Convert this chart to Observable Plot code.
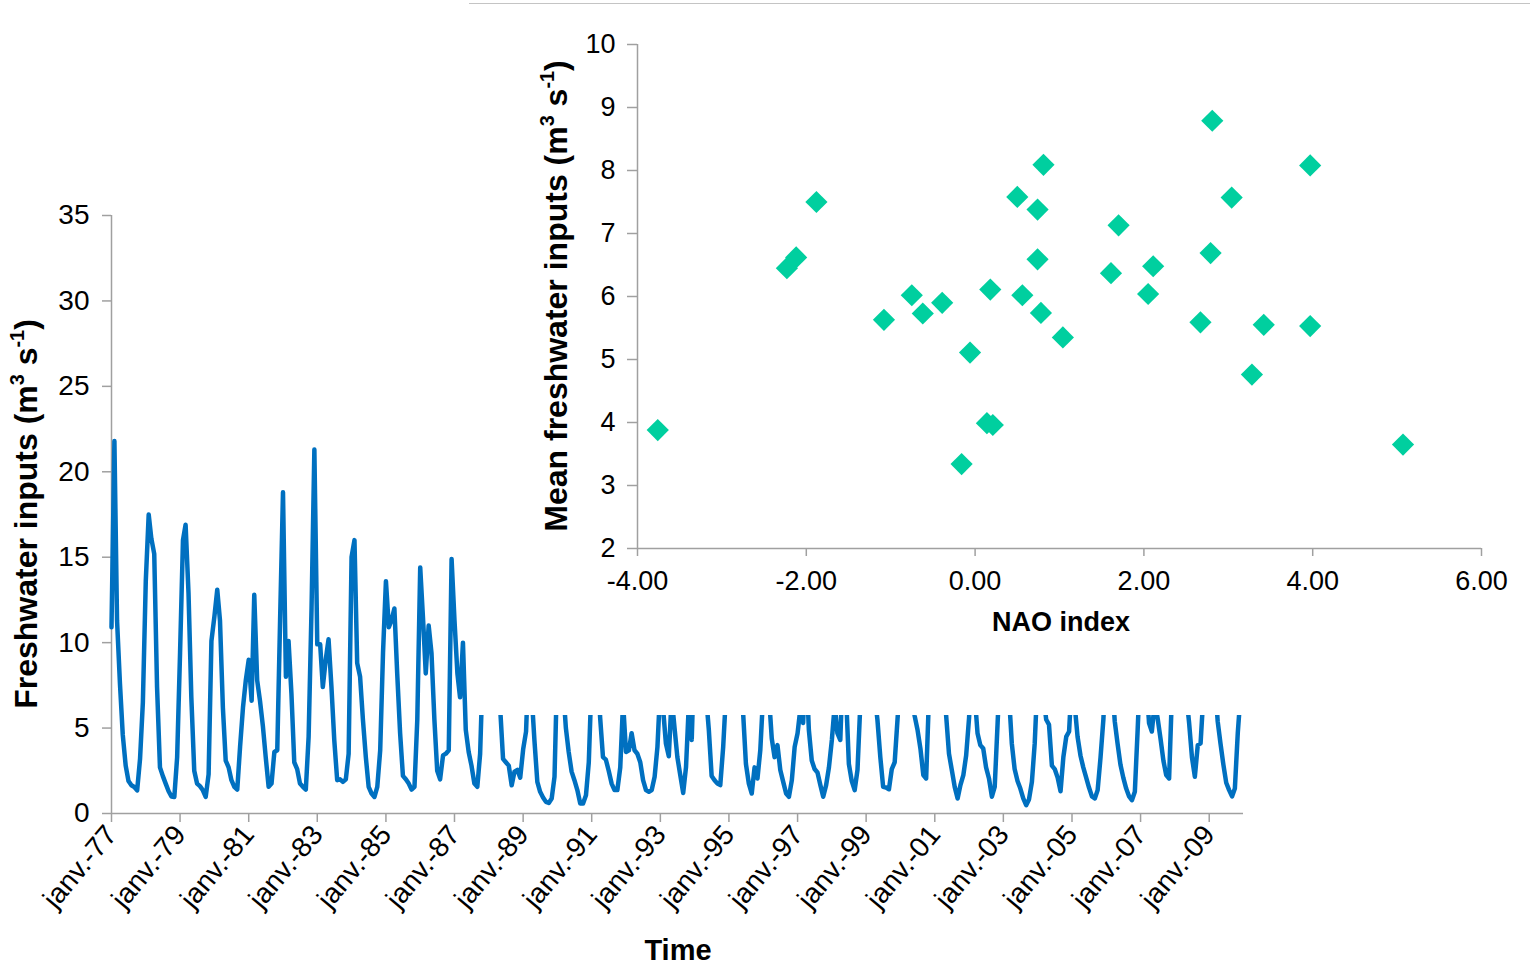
<!DOCTYPE html>
<html><head><meta charset="utf-8">
<script src="https://cdn.jsdelivr.net/npm/d3@7"></script>
<script src="https://cdn.jsdelivr.net/npm/@observablehq/plot@0.6"></script>
<style>
html,body{margin:0;padding:0;background:#fff;overflow:hidden}
#wrap{position:relative;width:1530px;height:966px}
#ts{position:absolute;left:0;top:0}
#inset{position:absolute;left:469px;top:3px;width:1061px;height:711px;background:#fff;border-top:1px solid #c4c4c4}
</style></head><body>
<div id="wrap"><div id="ts"></div><div id="inset"></div></div>
<script>
// ---- Monthly freshwater inputs (m3 s-1), Jan 1977 .. Dec 2009, 12 values per year ----
const firstYear = 1977;
const monthlyFlow = [
  10.9, 21.8, 11.3, 7.6, 4.6, 2.8, 1.9, 1.65, 1.55, 1.35, 3.2, 6.5,      // 1977
  13.6, 17.5, 16.1, 15.2, 7.4, 2.7, 2.2, 1.75, 1.3, 1.0, 0.97, 3.3,      // 1978
  9.4, 16.0, 16.9, 12.9, 6.8, 2.5, 1.75, 1.6, 1.36, 0.97, 2.3, 10.1,     // 1979
  11.5, 13.1, 11.3, 6.2, 3.1, 2.7, 1.95, 1.56, 1.4, 3.9, 6.2, 7.8,       // 1980
  9.0, 6.6, 12.8, 7.8, 6.6, 5.1, 3.3, 1.56, 1.75, 3.6, 3.7, 11.3,        // 1981
  18.8, 8.0, 10.1, 7.0, 3.0, 2.6, 1.75, 1.56, 1.4, 4.5, 12.0, 21.3,      // 1982
  9.9, 9.9, 7.4, 9.0, 10.2, 7.4, 4.3, 1.95, 2.0, 1.85, 2.0, 3.5,         // 1983
  15.0, 16.0, 8.8, 8.0, 5.5, 3.3, 1.56, 1.17, 0.97, 1.56, 3.7, 9.4,      // 1984
  13.6, 10.9, 11.3, 12.0, 8.2, 4.7, 2.2, 2.0, 1.75, 1.4, 1.56, 5.5,      // 1985
  14.4, 11.3, 8.2, 11.0, 9.4, 5.5, 2.5, 2.0, 3.4, 3.5, 3.7, 14.9,        // 1986
  11.3, 8.2, 6.8, 10.0, 4.9, 3.6, 2.8, 1.75, 1.56, 3.5, 9.0, 11.0,       // 1987
  12.0, 10.0, 9.0, 7.5, 6.2, 3.2, 3.0, 2.8, 1.65, 2.45, 2.55, 2.1,       // 1988
  3.75, 4.8, 9.0, 7.0, 4.3, 1.85, 1.27, 0.94, 0.68, 0.62, 0.88, 2.15,    // 1989
  9.0, 10.0, 7.5, 5.0, 3.6, 2.45, 1.95, 1.37, 0.59, 0.59, 1.07, 3.0,     // 1990
  8.0, 10.0, 9.0, 5.6, 3.3, 3.15, 2.5, 1.75, 1.37, 1.37, 2.7, 6.5,       // 1991
  3.6, 3.7, 4.7, 3.7, 3.5, 3.0, 1.95, 1.37, 1.27, 1.37, 2.15, 3.9,       // 1992
  7.5, 6.0, 4.1, 3.35, 6.8, 5.0, 3.3, 2.25, 1.2, 2.7, 6.5, 4.3,          // 1993
  10.0, 12.0, 11.0, 9.0, 7.0, 4.9, 2.2, 1.95, 1.75, 1.66, 3.9, 7.0,      // 1994
  10.0, 13.0, 11.0, 9.0, 7.0, 5.9, 2.9, 1.75, 1.17, 2.7, 2.05, 3.7,      // 1995
  7.0, 9.0, 7.0, 4.4, 3.3, 4.0, 2.55, 1.85, 1.17, 0.98, 1.95, 3.9,       // 1996
  4.7, 6.2, 5.3, 9.0, 4.9, 3.1, 2.6, 2.4, 1.66, 0.98, 1.66, 2.7,         // 1997
  4.3, 6.4, 4.7, 4.3, 9.0, 7.0, 2.9, 1.9, 1.37, 2.55, 6.5, 10.0,         // 1998
  13.0, 12.0, 9.0, 7.0, 5.5, 3.3, 1.56, 1.52, 1.42, 2.6, 3.0, 5.5,       // 1999
  8.0, 10.0, 11.0, 9.0, 7.0, 5.7, 4.9, 3.8, 2.25, 2.05, 7.0, 9.0,        // 2000
  12.0, 14.0, 10.0, 8.0, 5.8, 3.5, 2.55, 1.56, 0.88, 1.66, 2.25, 3.4,    // 2001
  5.6, 9.0, 7.0, 4.7, 4.0, 3.8, 2.7, 2.05, 0.98, 1.56, 5.3, 9.0,         // 2002
  12.0, 10.0, 7.0, 4.1, 2.6, 1.9, 1.46, 0.88, 0.49, 0.82, 1.85, 4.1,     // 2003
  8.0, 10.0, 7.0, 5.5, 5.2, 2.8, 2.6, 2.1, 1.3, 3.3, 4.5, 4.8,           // 2004
  8.0, 6.2, 4.5, 3.4, 2.7, 2.1, 1.52, 1.0, 0.88, 1.37, 3.3, 5.5,         // 2005
  9.0, 12.0, 8.0, 5.4, 4.1, 2.85, 2.1, 1.46, 1.0, 0.78, 1.27, 4.9,       // 2006
  9.0, 11.0, 8.0, 5.3, 4.8, 6.5, 5.6, 4.4, 3.1, 2.25, 2.05, 7.0,         // 2007
  10.0, 12.0, 9.0, 8.0, 7.0, 5.3, 3.3, 2.15, 4.0, 4.1, 7.0, 10.0,        // 2008
  12.0, 10.0, 8.0, 5.4, 4.1, 2.85, 1.8, 1.37, 1.0, 1.46, 4.7, 7.0        // 2009
];
const timeTickYears = [1977, 1979, 1981, 1983, 1985, 1987, 1989, 1991, 1993, 1995, 1997, 1999, 2001, 2003, 2005, 2007, 2009];
const timeTickLabels = ["janv.-77","janv.-79","janv.-81","janv.-83","janv.-85","janv.-87","janv.-89","janv.-91","janv.-93","janv.-95","janv.-97","janv.-99","janv.-01","janv.-03","janv.-05","janv.-07","janv.-09"];
const flowTicks = [0, 5, 10, 15, 20, 25, 30, 35];

// ---- Inset: annual mean freshwater inputs vs NAO index ----
const naoIndex = [-3.76, -2.23, -2.12, -1.88, -1.08, -0.75, -0.62, -0.39, -0.16, -0.06, 0.14, 0.21, 0.18, 0.50, 0.56, 0.74, 0.74, 0.81, 0.78, 1.04, 1.61, 1.70, 2.05, 2.11, 2.67, 2.79, 2.81, 3.04, 3.28, 3.42, 3.97, 3.97, 5.07];
const meanFlow = [3.88, 6.45, 6.62, 7.50, 5.63, 6.02, 5.73, 5.90, 3.34, 5.11, 3.99, 3.96, 6.11, 7.58, 6.02, 7.38, 6.59, 8.09, 5.74, 5.35, 6.37, 7.13, 6.04, 6.48, 5.59, 6.69, 8.79, 7.57, 4.76, 5.55, 8.08, 5.53, 3.65];
const naoTicks = [-4, -2, 0, 2, 4, 6];
const naoTickLabels = ["-4.00", "-2.00", "0.00", "2.00", "4.00", "6.00"];
const meanTicks = [2, 3, 4, 5, 6, 7, 8, 9, 10];

// ---- styles ----
const FONT = '"Liberation Sans", Arial, sans-serif';
const AXIS = "#a0a0a0";
const BLUE = "#0070c0";
const GREEN = "#00cf9f";

function addTitle(svg, x, y, angle, size, parts) {
  const t = d3.select(svg).append("text")
    .attr("transform", `translate(${x},${y}) rotate(${angle})`)
    .attr("text-anchor", "middle")
    .attr("font-family", FONT).attr("font-weight", "bold")
    .attr("font-size", size).attr("fill", "#000");
  let raised = false;
  const shift = size * 0.42;
  for (const p of parts) {
    const s = t.append("tspan").text(p.text);
    if (p.sup) { s.attr("font-size", size * 0.62); if (!raised) { s.attr("dy", -shift); raised = true; } }
    else if (raised) { s.attr("dy", shift); raised = false; }
  }
}

// ---- time series ----
const series = monthlyFlow.map((v, i) => ({date: new Date(Date.UTC(firstYear, i, 1)), value: v}));
const xStart = new Date(Date.UTC(firstYear, 0, 1));
const xEnd = new Date(Date.UTC(firstYear, monthlyFlow.length, 1));
const tickDates = timeTickYears.map(y => new Date(Date.UTC(y, 0, 1)));
const labelByYear = new Map(timeTickYears.map((y, i) => [y, timeTickLabels[i]]));

const ts = Plot.plot({
  width: 1260, height: 966,
  marginLeft: 111, marginRight: 17, marginTop: 215, marginBottom: 153,
  style: {fontFamily: FONT, fontSize: "28px", color: "#000", background: "transparent", overflow: "visible"},
  x: {type: "utc", domain: [xStart, xEnd]},
  y: {domain: [0, 35]},
  marks: [
    Plot.axisY({ticks: flowTicks, tickFormat: d => String(d), tickSize: 9, tickPadding: 13, stroke: AXIS, strokeWidth: 1.5, label: null}),
    Plot.axisX({ticks: tickDates, tickFormat: d => labelByYear.get(d.getUTCFullYear()), tickRotate: -50, tickSize: 9, tickPadding: 7, stroke: AXIS, strokeWidth: 1.5, label: null, fontSize: 28}),
    Plot.ruleY([0], {stroke: AXIS, strokeWidth: 1.5}),
    Plot.ruleX([xStart], {stroke: AXIS, strokeWidth: 1.5}),
    Plot.line(series, {x: "date", y: "value", stroke: BLUE, strokeWidth: 4.5, strokeLinejoin: "round"})
  ]
});
addTitle(ts, 37, 514, -90, 32, [{text: "Freshwater inputs (m"}, {text: "3", sup: true}, {text: " s"}, {text: "-1", sup: true}, {text: ")"}]);
addTitle(ts, 678, 960, 0, 29, [{text: "Time"}]);
document.getElementById("ts").appendChild(ts);

// ---- inset scatter ----
const points = naoIndex.map((x, i) => ({nao: x, mean: meanFlow[i]}));
const inset = Plot.plot({
  width: 1061, height: 711,
  marginLeft: 168, marginRight: 49, marginTop: 40, marginBottom: 167,
  style: {fontFamily: FONT, fontSize: "27px", color: "#000", background: "#fff", overflow: "visible"},
  x: {domain: [-4, 6]},
  y: {domain: [2, 10]},
  marks: [
    Plot.axisY({ticks: meanTicks, tickFormat: d => String(d), tickSize: 10, tickPadding: 12, stroke: AXIS, strokeWidth: 1.5, label: null}),
    Plot.axisX({ticks: naoTicks, tickFormat: d => naoTickLabels[naoTicks.indexOf(d)], tickSize: 8, tickPadding: 14, stroke: AXIS, strokeWidth: 1.5, label: null}),
    Plot.ruleX([-4], {stroke: AXIS, strokeWidth: 1.5}),
    Plot.ruleY([2], {stroke: AXIS, strokeWidth: 1.5}),
    Plot.dot(points, {x: "nao", y: "mean", symbol: "diamond2", r: 10, fill: GREEN})
  ]
});
addTitle(inset, 98, 292, -90, 32, [{text: "Mean freshwater inputs (m"}, {text: "3", sup: true}, {text: " s"}, {text: "-1", sup: true}, {text: ")"}]);
addTitle(inset, 592, 627, 0, 27, [{text: "NAO index"}]);
document.getElementById("inset").appendChild(inset);
</script></body></html>
